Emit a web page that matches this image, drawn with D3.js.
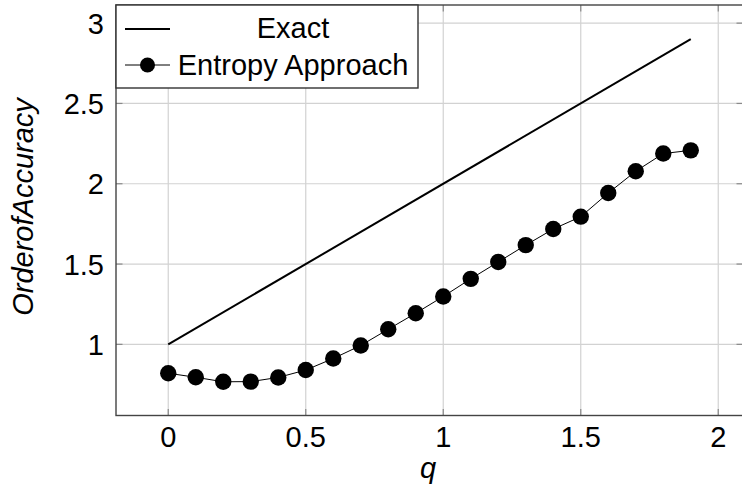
<!DOCTYPE html>
<html>
<head>
<meta charset="utf-8">
<script src="https://cdn.jsdelivr.net/npm/d3@7"></script>
<style>
  html, body { margin: 0; padding: 0; background: #fff; }
  svg { display: block; font-family: "Liberation Sans", Arial, Helvetica, sans-serif; }
</style>
</head>
<body>
<svg id="chart" width="742" height="488"></svg>
<script>
// ---- data ----
const qValues = [0, 0.1, 0.2, 0.3, 0.4, 0.5, 0.6, 0.7, 0.8, 0.9, 1.0, 1.1, 1.2, 1.3, 1.4, 1.5, 1.6, 1.7, 1.8, 1.9];
const entropyOrder = [0.82, 0.795, 0.767, 0.768, 0.794, 0.84, 0.912, 0.993, 1.094, 1.194, 1.298, 1.408, 1.513, 1.618, 1.718, 1.795, 1.942, 2.078, 2.188, 2.208];
const exactQ = [0, 1.9];
const exactOrder = [1.0, 2.9];
const xTicks = [0, 0.5, 1, 1.5, 2];
const yTicks = [1, 1.5, 2, 2.5, 3];
const xTickLabels = ["0", "0.5", "1", "1.5", "2"];
const yTickLabels = ["1", "1.5", "2", "2.5", "3"];
const seriesNames = ["Exact", "Entropy Approach"];
const xLabel = "q";
const yLabel = "OrderofAccuracy";

// ---- layout ----
const svg = d3.select("#chart");
const L = 116, T = 5, R = 743, B = 415.5;
const x = d3.scaleLinear().domain([-0.19, 2.09]).range([L, R]);
const y = d3.scaleLinear().domain([0.557, 3.113]).range([B, T]);
const fs = 29;

// grid
const grid = svg.append("g");
grid.selectAll("line.gx").data(xTicks).enter().append("line")
  .attr("x1", d => x(d)).attr("x2", d => x(d)).attr("y1", T).attr("y2", B)
  .attr("stroke", "#d2d2d2").attr("stroke-width", 1.2);
grid.selectAll("line.gy").data(yTicks).enter().append("line")
  .attr("x1", L).attr("x2", R).attr("y1", d => y(d)).attr("y2", d => y(d))
  .attr("stroke", "#d2d2d2").attr("stroke-width", 1.2);

// ticks (inward, all four sides)
const tk = 6.5, tickCol = "#8a8a8a";
const ticks = svg.append("g").attr("stroke", tickCol).attr("stroke-width", 1.2);
xTicks.forEach(d => {
  ticks.append("line").attr("x1", x(d)).attr("x2", x(d)).attr("y1", B).attr("y2", B - tk);
  ticks.append("line").attr("x1", x(d)).attr("x2", x(d)).attr("y1", T).attr("y2", T + tk);
});
yTicks.forEach(d => {
  ticks.append("line").attr("x1", L).attr("x2", L + tk).attr("y1", y(d)).attr("y2", y(d));
  ticks.append("line").attr("x1", R).attr("x2", R - tk).attr("y1", y(d)).attr("y2", y(d));
});

// series
const exactData = exactQ.map((q, i) => [q, exactOrder[i]]);
const entData = qValues.map((q, i) => [q, entropyOrder[i]]);
const line = d3.line().x(d => x(d[0])).y(d => y(d[1]));

svg.append("path").datum(exactData).attr("d", line)
  .attr("fill", "none").attr("stroke", "#000").attr("stroke-width", 2);
svg.append("path").datum(entData).attr("d", line)
  .attr("fill", "none").attr("stroke", "#000").attr("stroke-width", 1);
svg.append("g").selectAll("circle").data(entData).enter().append("circle")
  .attr("cx", d => x(d[0])).attr("cy", d => y(d[1])).attr("r", 8.2).attr("fill", "#000");

// frame
svg.append("rect").attr("x", L).attr("y", T).attr("width", R - L).attr("height", B - T)
  .attr("fill", "none").attr("stroke", "#444").attr("stroke-width", 1.4);

// tick labels
svg.append("g").selectAll("text").data(xTicks).enter().append("text")
  .attr("x", d => x(d)).attr("y", 447).attr("text-anchor", "middle")
  .attr("font-size", fs).attr("fill", "#000").text((d, i) => xTickLabels[i]);
svg.append("g").selectAll("text").data(yTicks).enter().append("text")
  .attr("x", 104).attr("y", d => y(d) + 10.5).attr("text-anchor", "end")
  .attr("font-size", fs).attr("fill", "#000").text((d, i) => yTickLabels[i]);

// axis labels
svg.append("text").attr("x", 428).attr("y", 478).attr("text-anchor", "middle")
  .attr("font-size", fs).attr("font-style", "italic").text(xLabel);
svg.append("text").attr("transform", "translate(33,207) rotate(-90)")
  .attr("text-anchor", "middle").attr("font-size", fs).attr("font-style", "italic").text(yLabel);

// legend
const lg = svg.append("g");
lg.append("rect").attr("x", L).attr("y", T).attr("width", 302).attr("height", 83)
  .attr("fill", "#fff").attr("stroke", "#333").attr("stroke-width", 1.4);
lg.append("line").attr("x1", 125).attr("x2", 170).attr("y1", 29).attr("y2", 29)
  .attr("stroke", "#000").attr("stroke-width", 2);
lg.append("line").attr("x1", 125).attr("x2", 170).attr("y1", 65).attr("y2", 65)
  .attr("stroke", "#000").attr("stroke-width", 1);
lg.append("circle").attr("cx", 147.5).attr("cy", 65).attr("r", 7.5).attr("fill", "#000");
lg.append("text").attr("x", 293).attr("y", 37.5).attr("text-anchor", "middle")
  .attr("font-size", 29).text(seriesNames[0]);
lg.append("text").attr("x", 293).attr("y", 74.5).attr("text-anchor", "middle")
  .attr("font-size", 29).text(seriesNames[1]);
</script>
</body>
</html>
